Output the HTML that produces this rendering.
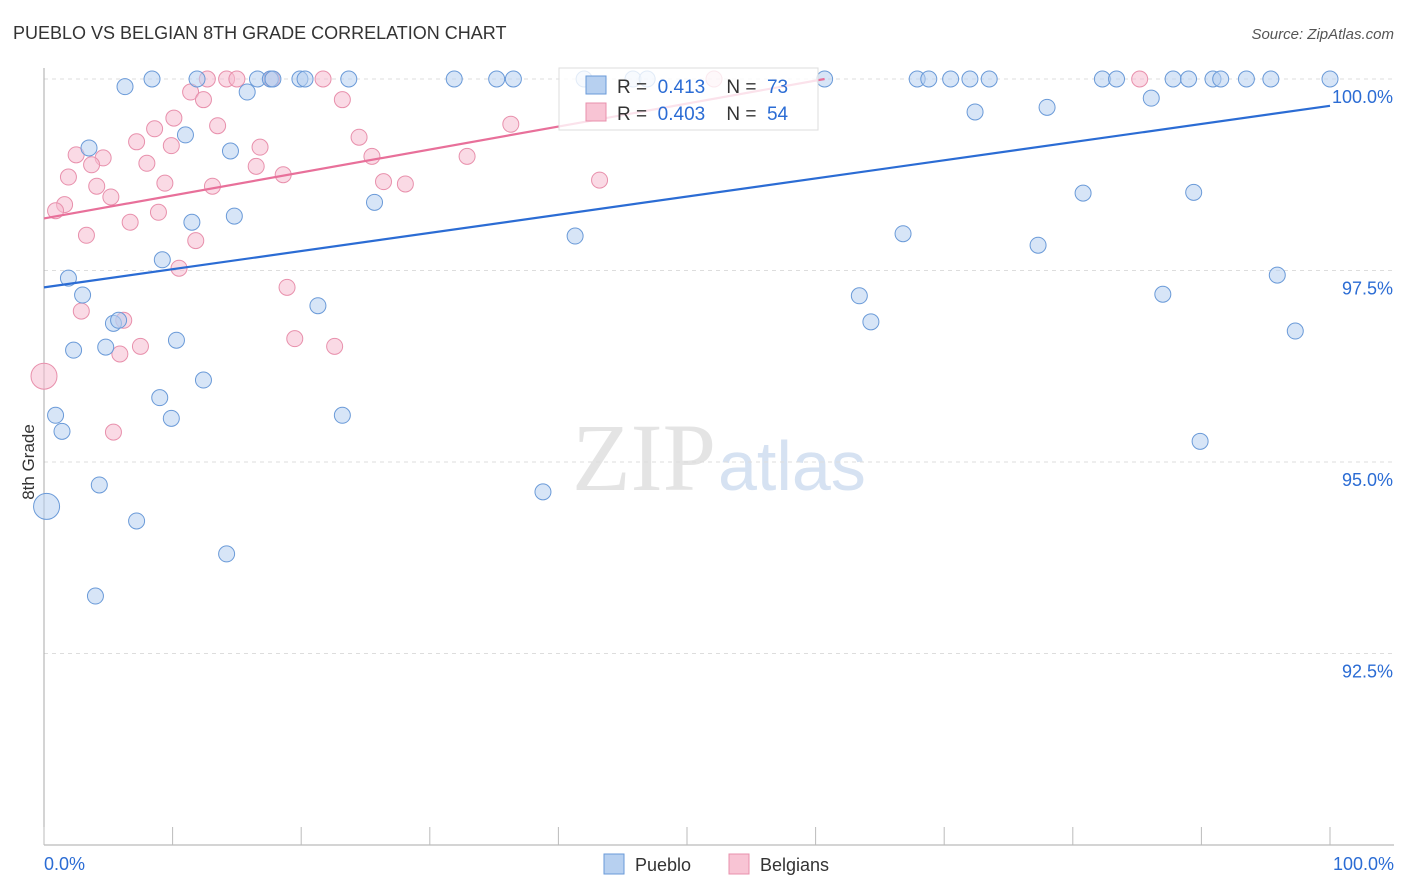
<!DOCTYPE html>
<html><head><meta charset="utf-8"><style>
body{margin:0;background:#fff;font-family:"Liberation Sans",sans-serif;}
svg{display:block}
</style></head><body>
<svg width="1406" height="892" xmlns="http://www.w3.org/2000/svg" id="chart">
<text x="13" y="39" font-size="18" fill="#333">PUEBLO VS BELGIAN 8TH GRADE CORRELATION CHART</text>
<text x="1394" y="39" font-size="15" fill="#555" text-anchor="end" font-style="italic">Source: ZipAtlas.com</text>
<text x="34" y="462" font-size="17" fill="#333" text-anchor="middle" transform="rotate(-90 34 462)">8th Grade</text>
<text x="716" y="490" font-size="96" fill="#e4e4e4" text-anchor="end" font-family="Liberation Serif">ZIP</text>
<text x="718" y="490" font-size="70" fill="#d6e2f2">atlas</text>
<g id="grid"></g><g id="ticks"></g><g id="pts"></g><g id="lines"></g>
<g>
<rect x="559" y="68" width="259" height="62" fill="#fff" fill-opacity="0.8" stroke="#ddd"/>
<rect x="586" y="76" width="20" height="18" fill="#b7d0f0" stroke="#6a9ad8"/>
<text x="617" y="93" font-size="19" fill="#333" xml:space="preserve">R =  <tspan fill="#2b6cd4">0.413</tspan>    N =  <tspan fill="#2b6cd4">73</tspan></text>
<rect x="586" y="103" width="20" height="18" fill="#f8c4d4" stroke="#e890ac"/>
<text x="617" y="120" font-size="19" fill="#333" xml:space="preserve">R =  <tspan fill="#2b6cd4">0.403</tspan>    N =  <tspan fill="#2b6cd4">54</tspan></text>
</g>
<g>
<rect x="604" y="854" width="20" height="20" fill="#b7d0f0" stroke="#6a9ad8"/>
<text x="635" y="871" font-size="18" fill="#333">Pueblo</text>
<rect x="729" y="854" width="20" height="20" fill="#f8c4d4" stroke="#e890ac"/>
<text x="760" y="871" font-size="18" fill="#333">Belgians</text>
</g>
<text x="44" y="870" font-size="18" fill="#2b6cd4">0.0%</text>
<text x="1394" y="870" font-size="18" fill="#2b6cd4" text-anchor="end">100.0%</text>
</svg>
<script>
const yTicks=[100,97.5,95,92.5];
const yTickLabels=["100.0%","97.5%","95.0%","92.5%"];
const xTicks=[0,10,20,30,40,50,60,70,80,90,100];
const puebloX=[6.3,8.4,11.9,16.6,17.6,17.8,19.9,20.3,23.7,31.9,35.2,36.5,42.0,45.8,46.9,60.7,67.9,68.8,70.5,72.0,73.5,82.3,83.4,87.8,89.0,90.9,91.5,93.5,95.4,100,15.8,72.4,78.0,86.1,3.5,11.0,14.5,25.7,14.8,11.5,41.3,66.8,77.3,80.8,89.4,9.2,1.9,3.0,21.3,63.4,87.0,95.9,5.4,5.8,64.3,97.3,10.3,2.3,4.8,12.4,9.0,0.9,23.2,9.9,1.4,89.9,4.3,38.8,0.2,7.2,14.2,4.0];
const puebloY=[99.9,100,100,100,100,100,100,100,100,100,100,100,100,100,100,100,100,100,100,100,100,100,100,100,100,100,100,100,100,100,99.83,99.57,99.63,99.75,99.1,99.27,99.06,98.39,98.21,98.13,97.95,97.98,97.83,98.51,98.52,97.64,97.40,97.18,97.04,97.17,97.19,97.44,96.81,96.85,96.83,96.71,96.59,96.46,96.50,96.07,95.84,95.61,95.61,95.57,95.40,95.27,94.70,94.61,94.42,94.23,93.80,93.25];
const belgX=[14.2,15.0,12.7,17.7,21.7,52.1,85.2,11.4,12.4,23.2,13.5,8.6,10.1,7.2,24.5,9.9,16.8,2.5,4.6,3.7,8.0,25.5,32.9,36.3,16.5,1.9,4.1,9.4,13.1,18.6,26.4,28.1,43.2,5.2,1.6,0.9,8.9,6.7,3.3,11.8,10.5,18.9,2.9,6.2,19.5,22.6,7.5,5.9,0,5.4];
const belgY=[100,100,100,100,100,100,100,99.83,99.73,99.73,99.39,99.35,99.49,99.18,99.24,99.13,99.11,99.01,98.97,98.88,98.90,98.99,98.99,99.41,98.86,98.72,98.60,98.64,98.60,98.75,98.66,98.63,98.68,98.46,98.36,98.28,98.26,98.13,97.96,97.89,97.53,97.28,96.97,96.85,96.61,96.51,96.51,96.41,96.12,95.39];
const puebloTrend=[97.28,99.65];
const belgTrend=[98.18,100];
const belgTrendEnd=60.7;
const NS="http://www.w3.org/2000/svg";
const xs=v=>44+v*12.86, ys=v=>79+(100-v)*76.6;
function mk(t,a,p){const e=document.createElementNS(NS,t);for(const k in a)e.setAttribute(k,a[k]);document.getElementById(p).appendChild(e);return e;}
yTicks.forEach((t,i)=>{
 const l=mk('line',{x1:44,x2:1394,y1:ys(t),y2:ys(t),stroke:'#ddd','stroke-dasharray':'4 4'},'grid');
 
 
 const tx=mk('text',{x:1393,y:ys(t)+24,'font-size':18,fill:'#2b6cd4','text-anchor':'end'},'grid');
 tx.textContent=yTickLabels[i];
 
 
});
const ax=mk('line',{x1:44,x2:44,y1:68,y2:845,stroke:'#aaa'},'grid');


const bx=mk('line',{x1:44,x2:1394,y1:845,y2:845,stroke:'#aaa'},'grid');


xTicks.forEach(t=>{
 const l=mk('line',{x1:xs(t),x2:xs(t),y1:827,y2:845,stroke:'#bbb'},'ticks');
 
 
});
function dots(X,Y,fill,stroke,name){
 X.forEach((x,i)=>{
  const big=(x<=0.3&&(Y[i]<94.5||(Y[i]>96&&Y[i]<96.2)));
  const c=mk('circle',{cx:xs(x),cy:ys(Y[i]),r:big?13:8,fill:fill,'fill-opacity':0.55,stroke:stroke,'stroke-width':1},'pts');
  
  
 });
}
dots(belgX,belgY,'#f6bcd0','#e890ac','belgians-point');
dots(puebloX,puebloY,'#b7d0f0','#6a9ad8','pueblo-point');
const l1=mk('line',{x1:xs(0),y1:ys(puebloTrend[0]),x2:xs(100),y2:ys(puebloTrend[1]),stroke:'#2b6cd4','stroke-width':2.2},'lines');


const l2=mk('line',{x1:xs(0),y1:ys(belgTrend[0]),x2:xs(belgTrendEnd),y2:ys(belgTrend[1]),stroke:'#e8709a','stroke-width':2.2},'lines');


</script>
</body></html>
